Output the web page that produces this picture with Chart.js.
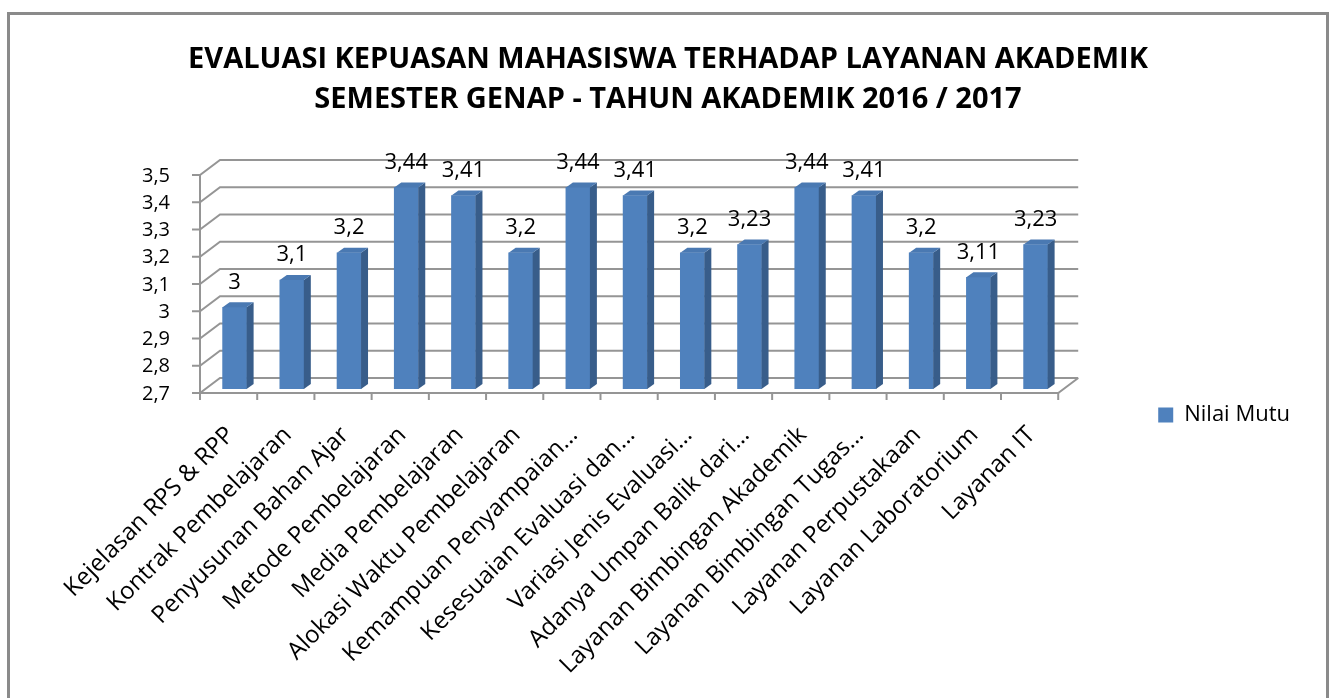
<!DOCTYPE html>
<html>
<head>
<meta charset="utf-8">
<script src="https://cdn.jsdelivr.net/npm/chart.js@4.4.0/dist/chart.umd.min.js"></script>
<style>
  html, body { margin: 0; padding: 0; background: #fff; overflow: hidden; }
  #frame { position: absolute; left: 7px; top: 12px; width: 1316px; height: 700px; border: 3px solid #8a8a8a; }
  #chart { position: absolute; left: 0; top: 0; }
</style>
</head>
<body>
<div id="frame"></div>
<canvas id="chart" width="1331" height="698"></canvas>
<script>
  // Data
  const titleLines = [
    'EVALUASI KEPUASAN MAHASISWA TERHADAP LAYANAN AKADEMIK',
    'SEMESTER GENAP - TAHUN AKADEMIK 2016 / 2017'
  ];
  const seriesName = 'Nilai Mutu';
  const categories = [
    'Kejelasan RPS & RPP',
    'Kontrak Pembelajaran',
    'Penyusunan Bahan Ajar',
    'Metode Pembelajaran',
    'Media Pembelajaran',
    'Alokasi Waktu Pembelajaran',
    'Kemampuan Penyampaian…',
    'Kesesuaian Evaluasi dan…',
    'Variasi Jenis Evaluasi…',
    'Adanya Umpan Balik dari…',
    'Layanan Bimbingan Akademik',
    'Layanan Bimbingan Tugas…',
    'Layanan Perpustakaan',
    'Layanan Laboratorium',
    'Layanan IT'
  ];
  const nilaiMutu = [3, 3.1, 3.2, 3.44, 3.41, 3.2, 3.44, 3.41, 3.2, 3.23, 3.44, 3.41, 3.2, 3.11, 3.23];
  const yTicks = [2.7, 2.8, 2.9, 3, 3.1, 3.2, 3.3, 3.4, 3.5];

  // Angka pakai koma desimal
  const fmt = v => String(Math.round(v * 100) / 100).replace('.', ',');

  const FONT = 'Open Sans';
  const GRID = '#959595';

  // Efek 3D: dinding belakang, lantai, sisi batang, label nilai
  const bar3d = {
    id: 'bar3d',
    beforeDatasetsDraw(chart) {
      const { ctx, chartArea: a, scales: { y } } = chart;
      const dx = 20, dy = 15, frontDy = 4, shift = 6;
      const left = a.left - shift, right = a.right - shift;
      ctx.save();
      ctx.strokeStyle = GRID;
      ctx.lineWidth = 2;
      yTicks.forEach(v => {
        const fy = y.getPixelForValue(v) + frontDy;
        ctx.beginPath();
        ctx.moveTo(left - 8, fy);
        ctx.lineTo(left, fy);
        ctx.lineTo(left + dx, fy - dy);
        ctx.lineTo(right + dx, fy - dy);
        ctx.stroke();
      });
      const top = y.getPixelForValue(yTicks[yTicks.length - 1]) + frontDy;
      const bottom = y.getPixelForValue(yTicks[0]) + frontDy;
      ctx.beginPath();
      ctx.moveTo(left, top);
      ctx.lineTo(left, bottom + 7);
      ctx.moveTo(left, bottom);
      ctx.lineTo(right, bottom);
      ctx.lineTo(right + dx, bottom - dy);
      ctx.stroke();
      // tick kategori
      const n = categories.length;
      for (let i = 0; i <= n; i++) {
        const tx = left + i * (right - left) / n;
        ctx.beginPath();
        ctx.moveTo(tx, bottom);
        ctx.lineTo(tx, bottom + 7);
        ctx.stroke();
      }
      ctx.restore();
    },
    afterDatasetsDraw(chart) {
      const { ctx, chartArea: a } = chart;
      const meta = chart.getDatasetMeta(0);
      const d = 7, h = 5;
      ctx.save();
      meta.data.forEach((bar, i) => {
        const p = bar.getProps(['x', 'y', 'base', 'width'], true);
        const x = p.x, y = p.y, width = p.width;
        const base = Math.min(p.base, a.bottom);
        const l = x - width / 2, r = x + width / 2;
        ctx.fillStyle = '#385d8a';
        ctx.beginPath();
        ctx.moveTo(r, y); ctx.lineTo(r + d, y - h); ctx.lineTo(r + d, base - h); ctx.lineTo(r, base);
        ctx.closePath(); ctx.fill();
        ctx.fillStyle = '#4a79b2';
        ctx.beginPath();
        ctx.moveTo(l, y); ctx.lineTo(l + d, y - h); ctx.lineTo(r + d, y - h); ctx.lineTo(r, y);
        ctx.closePath(); ctx.fill();
        ctx.fillStyle = '#000';
        ctx.font = '22px "' + FONT + '"';
        ctx.textAlign = 'center';
        ctx.textBaseline = 'middle';
        ctx.fillText(fmt(nilaiMutu[i]), x, y - 25);
      });
      ctx.restore();
    }
  };

  new Chart(document.getElementById('chart'), {
    type: 'bar',
    data: {
      labels: categories,
      datasets: [{
        label: seriesName,
        data: nilaiMutu,
        backgroundColor: '#4f81bd',
        borderWidth: 0,
        barThickness: 24
      }]
    },
    options: {
      responsive: false,
      animation: false,
      layout: { padding: { left: 36, right: 31, top: 0, bottom: 0 } },
      plugins: {
        title: {
          display: true,
          text: titleLines,
          color: '#000',
          font: { family: FONT, size: 29, weight: 'bold', lineHeight: 1.38 },
          padding: { top: 40, bottom: 51 }
        },
        legend: {
          position: 'right',
          title: {
            // judul kosong, hanya untuk menurunkan posisi legenda
            display: true,
            text: ' ',
            font: { size: 10 },
            padding: { top: 60, bottom: 60 }
          },
          labels: {
            boxWidth: 15,
            boxHeight: 15,
            color: '#000',
            font: { family: FONT, size: 22 }
          }
        },
        tooltip: { enabled: false }
      },
      scales: {
        x: {
          grid: { display: false },
          border: { display: false },
          ticks: {
            autoSkip: false,
            minRotation: 45,
            maxRotation: 45,
            color: '#000',
            font: { family: FONT, size: 24 },
            padding: 24,
            labelOffset: -4
          },
          afterFit: s => { s.height = 309; }
        },
        y: {
          min: 2.7,
          max: 3.5,
          grid: { display: false },
          border: { display: false },
          afterBuildTicks: s => { s.ticks = yTicks.map(v => ({ value: v })); },
          ticks: {
            color: '#000',
            font: { family: FONT, size: 20 },
            padding: 28,
            labelOffset: 5,
            callback: v => fmt(v)
          },
          afterFit: s => { s.width = 170; }
        },
        gap: {
          type: 'linear',
          position: 'right',
          display: true,
          grid: { display: false },
          border: { display: false },
          ticks: { display: false },
          afterFit: s => { s.width = 84; }
        }
      }
    },
    plugins: [bar3d]
  });
</script>
</body>
</html>
